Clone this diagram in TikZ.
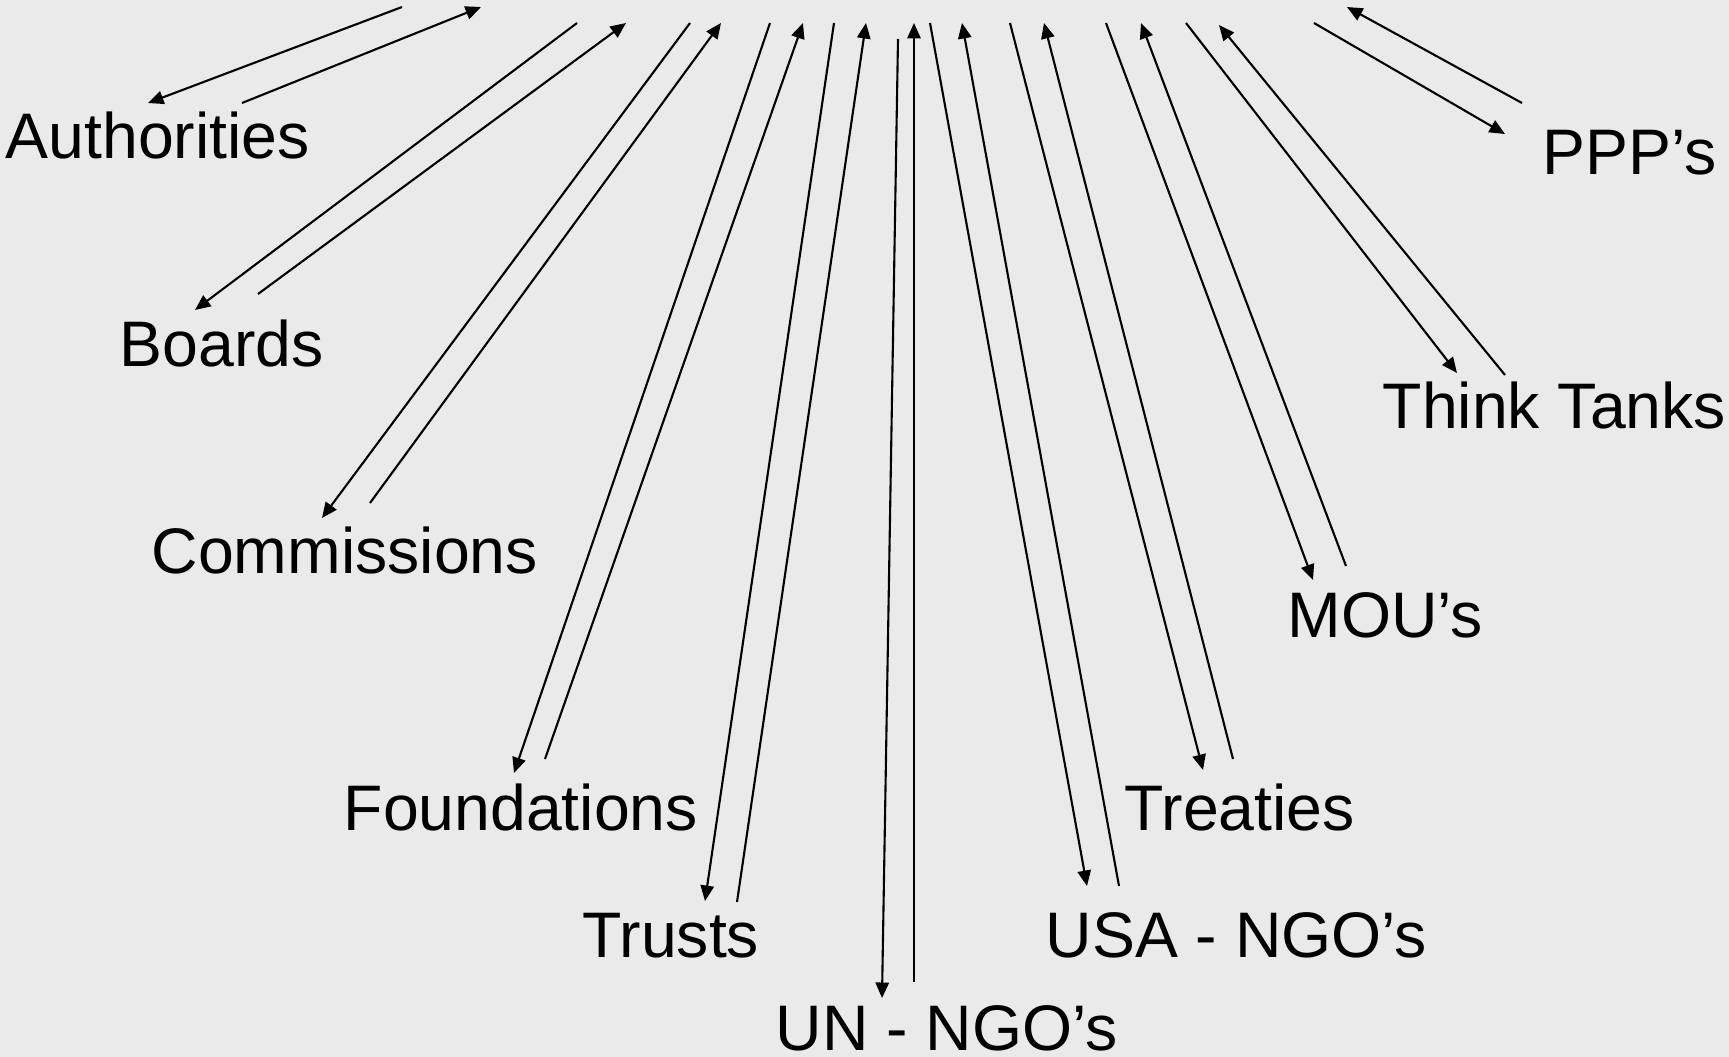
\documentclass[tikz,border=0pt]{standalone}
\usepackage{fontspec}
\setmainfont{Liberation Sans}
\usetikzlibrary{arrows.meta}
\definecolor{bgcol}{RGB}{234,234,234}
\begin{document}
\begin{tikzpicture}[x=0.01cm,y=-0.01cm,
  lbl/.style={anchor=base west,inner sep=0pt,font=\fontsize{18.3pt}{22pt}\selectfont},
  arr/.style={line width=0.6pt,-{Triangle[length=4.4pt,width=3.8pt]}}]
\path[use as bounding box,fill=bgcol] (0,0) rectangle (1729,1057);
% labels
\node[lbl] (auth) at (5,158) {Authorities};
\node[lbl] (boards) at (119,366) {Boards};
\node[lbl] (comm) at (151,573) {Commissions};
\node[lbl] (found) at (343,830) {Foundations};
\node[lbl] (trusts) at (582,957) {Trusts};
\node[lbl] (un) at (775,1050) {UN - NGO’s};
\node[lbl] (usa) at (1045,957) {USA - NGO’s};
\node[lbl] (treat) at (1124,830) {Treaties};
\node[lbl] (mou) at (1287,637) {MOU’s};
\node[lbl] (think) at (1382,428) {Think Tanks};
\node[lbl] (ppp) at (1542,174) {PPP’s};
% endpoints
\coordinate (a1) at (402,7);   \coordinate (a2) at (148,103);
\coordinate (a3) at (242,103); \coordinate (a4) at (481,7);
\coordinate (b1) at (577,23);  \coordinate (b2) at (195,310);
\coordinate (b3) at (258,294); \coordinate (b4) at (626,23);
\coordinate (c1) at (690,23);  \coordinate (c2) at (322,518);
\coordinate (c3) at (370,503); \coordinate (c4) at (721,23);
\coordinate (f1) at (770,23);  \coordinate (f2) at (514,773);
\coordinate (f3) at (545,759); \coordinate (f4) at (803,23);
\coordinate (t1) at (834,23);  \coordinate (t2) at (705,901);
\coordinate (t3) at (737,902); \coordinate (t4) at (866,23);
\coordinate (u1) at (898,39);  \coordinate (u2) at (882,998);
\coordinate (u3) at (914,982); \coordinate (u4) at (914,23);
\coordinate (s1) at (930,23);  \coordinate (s2) at (1087,886);
\coordinate (s3) at (1119,886);\coordinate (s4) at (962,23);
\coordinate (r1) at (1010,23); \coordinate (r2) at (1203,770);
\coordinate (r3) at (1233,759);\coordinate (r4) at (1044,23);
\coordinate (m1) at (1106,23); \coordinate (m2) at (1313,580);
\coordinate (m3) at (1346,566);\coordinate (m4) at (1141,23);
\coordinate (k1) at (1186,23); \coordinate (k2) at (1457,373);
\coordinate (k3) at (1505,375);\coordinate (k4) at (1219,25);
\coordinate (p1) at (1314,23); \coordinate (p2) at (1505,134);
\coordinate (p3) at (1522,103);\coordinate (p4) at (1347,7);
% arrows
\foreach \n in {a,b,c,f,t,u,s,r,m,k,p}{
  \draw[arr] (\n1) -- (\n2);
  \draw[arr] (\n3) -- (\n4);
}
\end{tikzpicture}
\end{document}
